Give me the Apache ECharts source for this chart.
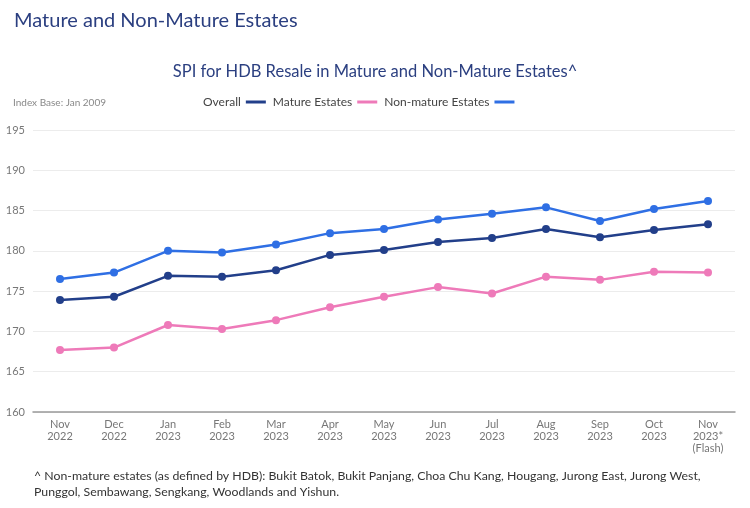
<!DOCTYPE html>
<html>
<head>
<meta charset="utf-8">
<script src="https://cdn.jsdelivr.net/npm/echarts@6/dist/echarts.min.js"></script>
<style>
  html, body { margin: 0; padding: 0; background: #fff; }
  #chart { width: 750px; height: 508px; }
</style>
</head>
<body>
<div id="chart"></div>
<script>
// months on the x axis
var months = ['Nov\n2022', 'Dec\n2022', 'Jan\n2023', 'Feb\n2023', 'Mar\n2023', 'Apr\n2023', 'May\n2023',
  'Jun\n2023', 'Jul\n2023', 'Aug\n2023', 'Sep\n2023', 'Oct\n2023', 'Nov\n2023*\n(Flash)'];

// values
var overall   = [173.9, 174.3, 176.9, 176.8, 177.6, 179.5, 180.1, 181.1, 181.6, 182.7, 181.7, 182.6, 183.3];
var mature    = [167.7, 168.0, 170.8, 170.3, 171.4, 173.0, 174.3, 175.5, 174.7, 176.8, 176.4, 177.4, 177.3];
var nonMature = [176.5, 177.3, 180.0, 179.8, 180.8, 182.2, 182.7, 183.9, 184.6, 185.4, 183.7, 185.2, 186.2];

var seriesNames = ['Overall', 'Mature Estates', 'Non-mature Estates'];
var seriesColors = ['#223f8a', '#ee7ab9', '#2f6fe4'];

var font = 'Lato, "Open Sans", sans-serif';

var myChart = echarts.init(document.getElementById('chart'));

function line(name, data, color) {
  return {
    name: name,
    type: 'line',
    data: data,
    color: color,
    symbol: 'circle',
    symbolSize: 8,
    lineStyle: { width: 2.5, color: color },
    itemStyle: { color: color }
  };
}

var option = {
  backgroundColor: '#fff',
  textStyle: { fontFamily: font },
  title: [
    {
      text: 'Mature and Non-Mature Estates',
      left: 9, top: 6,
      textStyle: { fontSize: 20, fontWeight: 'normal', color: '#2b3f80', fontFamily: font }
    },
    {
      text: 'SPI for HDB Resale in Mature and Non-Mature Estates^',
      left: 'center', top: 58,
      textStyle: { fontSize: 16.5, fontWeight: 'normal', color: '#2b3f80', fontFamily: font }
    },
    {
      text: 'Index Base: Jan 2009',
      left: 8, top: 93,
      textStyle: { fontSize: 10, fontWeight: 'normal', color: '#888', fontFamily: font }
    },
    {
      text: '^ Non-mature estates (as defined by HDB): Bukit Batok, Bukit Panjang, Choa Chu Kang, Hougang, Jurong East, Jurong West,\nPunggol, Sembawang, Sengkang, Woodlands and Yishun.',
      left: 29, top: 463,
      textStyle: { fontSize: 12.3, fontWeight: 'normal', color: '#333', lineHeight: 16, fontFamily: font }
    }
  ],
  legend: {
    data: seriesNames,
    left: 198, top: 91,
    align: 'right',
    icon: 'rect',
    itemWidth: 20, itemHeight: 3,
    itemGap: 7,
    textStyle: { fontSize: 12, color: '#444', fontFamily: font }
  },
  grid: { left: 33, right: 15, top: 130, bottom: 96 },
  xAxis: {
    type: 'category',
    data: months,
    boundaryGap: true,
    axisLine: { lineStyle: { color: '#999', width: 1.5 } },
    axisTick: { show: false },
    axisLabel: { color: '#777', fontSize: 11, lineHeight: 12, margin: 6, interval: 0, fontFamily: font }
  },
  yAxis: {
    type: 'value',
    min: 160, max: 195, interval: 5,
    axisLine: { show: false },
    axisTick: { show: false },
    splitLine: { lineStyle: { color: '#ececec' } },
    axisLabel: { color: '#777', fontSize: 11, margin: 8, fontFamily: font }
  },
  series: [
    line(seriesNames[0], overall, seriesColors[0]),
    line(seriesNames[1], mature, seriesColors[1]),
    line(seriesNames[2], nonMature, seriesColors[2])
  ]
};

myChart.setOption(option);
</script>
</body>
</html>
